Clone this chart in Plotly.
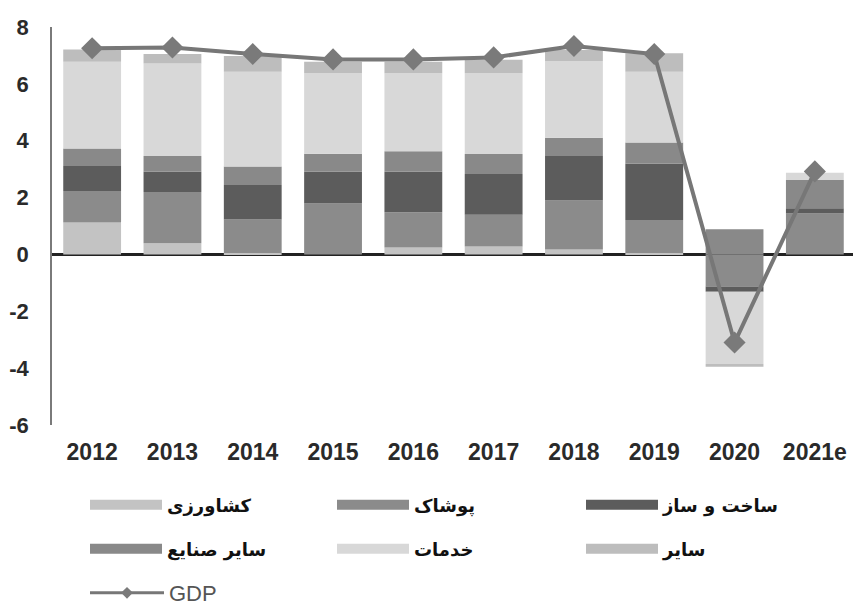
import plotly.graph_objects as go

years = ["2012", "2013", "2014", "2015", "2016", "2017", "2018", "2019", "2020", "2021e"]

agriculture      = [1.12, 0.39, 0.05, 0.00, 0.24, 0.28, 0.17, 0.05, 0.00, 0.00]
clothing         = [1.11, 1.81, 1.18, 1.79, 1.24, 1.12, 1.73, 1.16, -1.13, 1.44]
construction     = [0.88, 0.71, 1.21, 1.12, 1.43, 1.43, 1.56, 1.98, -0.18, 0.18]
other_industries = [0.62, 0.55, 0.65, 0.63, 0.72, 0.70, 0.64, 0.75, 0.89, 1.00]
services         = [3.05, 3.26, 3.34, 2.83, 2.74, 2.84, 2.70, 2.49, -2.54, 0.25]
other            = [0.43, 0.33, 0.55, 0.41, 0.41, 0.48, 0.39, 0.65, -0.10, 0.00]
gdp              = [7.25, 7.28, 7.05, 6.86, 6.86, 6.93, 7.33, 7.05, -3.10, 2.92]

series_names = ["کشاورزی", "پوشاک", "ساخت و ساز", "سایر صنایع", "خدمات", "سایر"]
series_values = [agriculture, clothing, construction, other_industries, services, other]
series_colors = ["#c3c3c3", "#8b8b8b", "#5c5c5c", "#898989", "#d8d8d8", "#bdbdbd"]

ytick_vals = [-6, -4, -2, 0, 2, 4, 6, 8]
ytick_text = ["-6", "-4", "-2", "0", "2", "4", "6", "8"]

# the page body adds an 8px offset; the figure is sized to fit the window
OFF = 8
W, H = 861 - OFF, 606 - OFF
ML, MR, MT, MB = 52 - OFF, 6, 27 - OFF, 181
PW = W - ML - MR
PH = H - MT - MB

def px_x(px):
    return (px - OFF - ML) / PW

def px_y(py):
    return (H - MB - (py - OFF)) / PH

fig = go.Figure()

legend_keys = ["legend", "legend2", "legend3", "legend4", "legend5", "legend6", "legend7"]
col_px = [85, 332, 581]
row_px = [505, 549, 593]

for name, vals, col in zip(series_names, series_values, series_colors):
    fig.add_trace(go.Bar(
        x=years, y=vals, name=name, marker=dict(color=col, line=dict(width=0)),
        showlegend=False, legendgroup=name,
    ))

fig.add_trace(go.Scatter(
    x=years, y=gdp, name="GDP", mode="lines+markers",
    line=dict(color="#777777", width=4),
    marker=dict(symbol="diamond", size=17, color="#7a7a7a"),
    showlegend=False, legendgroup="GDP",
))

layout_legends = {}
for i, (name, col) in enumerate(zip(series_names, series_colors)):
    key = legend_keys[i]
    fig.add_trace(go.Scatter(
        x=[None], y=[None], mode="lines", name=name,
        line=dict(color=col, width=12), legend=key, legendgroup=name,
    ))
    r, c = divmod(i, 3)
    layout_legends[key] = dict(
        x=px_x(col_px[c]), y=px_y(row_px[r]), xanchor="left", yanchor="middle",
        orientation="h", itemwidth=72, bgcolor="rgba(0,0,0,0)",
        font=dict(family="DejaVu Sans", size=18, color="#111111", weight="bold"),
    )

fig.add_trace(go.Scatter(
    x=[None], y=[None], mode="lines+markers", name="GDP",
    line=dict(color="#777777", width=3),
    marker=dict(symbol="diamond", size=9, color="#7a7a7a"),
    legend="legend7", legendgroup="GDP",
))
layout_legends["legend7"] = dict(
    x=px_x(col_px[0]), y=px_y(row_px[2]), xanchor="left", yanchor="middle",
    orientation="h", itemwidth=74, bgcolor="rgba(0,0,0,0)",
    font=dict(family="Liberation Sans", size=22, color="#555555"),
)

fig.update_layout(
    width=W, height=H,
    margin=dict(l=ML, r=MR, t=MT, b=MB, pad=0, autoexpand=False),
    paper_bgcolor="white", plot_bgcolor="white",
    barmode="relative", bargap=0.28,
    xaxis=dict(
        type="category", range=[-0.5, len(years) - 0.5],
        showline=False, showgrid=False, ticks="",
        tickfont=dict(family="Liberation Sans", size=23, color="#2a2a2a", weight="bold"),
        ticklabelstandoff=11,
    ),
    yaxis=dict(
        range=[-6, 8], tickvals=ytick_vals, ticktext=ytick_text,
        showgrid=False, showline=True, linecolor="#7a7a7a", linewidth=1.5,
        zeroline=True, zerolinecolor="#222222", zerolinewidth=2.5,
        ticks="", ticklabelstandoff=17,
        tickfont=dict(family="Liberation Sans", size=22, color="#2a2a2a", weight="bold"),
    ),
    **layout_legends,
)

fig.write_html("out.html")
